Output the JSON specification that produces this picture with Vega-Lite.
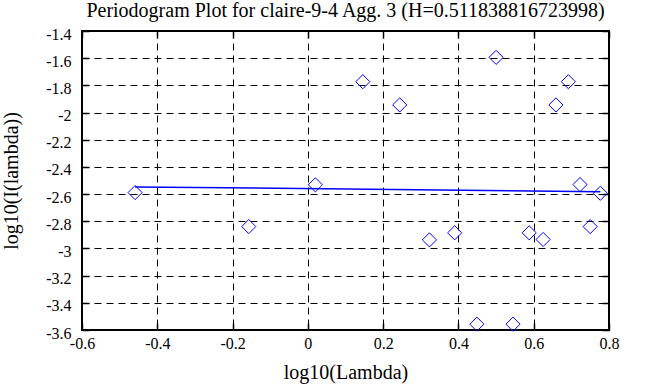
{
  "$schema": "https://vega.github.io/schema/vega-lite/v6.json",
  "width": 527,
  "height": 299,
  "autosize": "none",
  "padding": {"left": 82, "top": 31, "right": 44, "bottom": 57},
  "background": "white",
  "title": {
    "text": "Periodogram Plot for claire-9-4 Agg. 3 (H=0.511838816723998)",
    "font": "Liberation Serif",
    "fontSize": 20,
    "fontWeight": "normal",
    "color": "black",
    "anchor": "middle",
    "offset": 5
  },
  "config": {
    "font": "Liberation Serif",
    "style": {
      "guide-label": {"font": "Liberation Serif", "fontSize": 16, "fill": "black"},
      "guide-title": {"font": "Liberation Serif", "fontSize": 20, "fill": "black", "fontWeight": "normal"}
    },
    "view": {"stroke": "black", "strokeWidth": 2},
    "axis": {
      "labelFont": "Liberation Serif",
      "labelFontSize": 16,
      "labelColor": "black",
      "labelFlush": false,
      "titleFont": "Liberation Serif",
      "titleFontSize": 20,
      "titleFontWeight": "normal",
      "titleColor": "black",
      "domain": false,
      "tickColor": "black",
      "tickWidth": 1.5,
      "tickSize": -7,
      "gridColor": "black",
      "gridOpacity": 1,
      "gridWidth": 1,
      "gridDash": [7, 5]
    },
    "axisX": {"labelFont": "Liberation Serif", "labelFontSize": 16},
    "axisY": {"labelFont": "Liberation Serif", "labelFontSize": 16}
  },
  "datasets": {
    "points": [
      {"lx": -0.459, "ly": -2.589},
      {"lx": -0.157, "ly": -2.839},
      {"lx": 0.020, "ly": -2.532},
      {"lx": 0.146, "ly": -1.773},
      {"lx": 0.244, "ly": -1.944},
      {"lx": 0.323, "ly": -2.937},
      {"lx": 0.390, "ly": -2.885},
      {"lx": 0.449, "ly": -3.557},
      {"lx": 0.500, "ly": -1.594},
      {"lx": 0.545, "ly": -3.557},
      {"lx": 0.588, "ly": -2.885},
      {"lx": 0.625, "ly": -2.934},
      {"lx": 0.659, "ly": -1.944},
      {"lx": 0.692, "ly": -1.773},
      {"lx": 0.723, "ly": -2.530},
      {"lx": 0.750, "ly": -2.839},
      {"lx": 0.777, "ly": -2.594}
    ],
    "fit": [
      {"lx": -0.459, "ly": -2.547},
      {"lx": 0.777, "ly": -2.582}
    ]
  },
  "layer": [
    {
      "data": {"name": "points"},
      "mark": {"type": "point", "shape": "diamond", "size": 200, "filled": false, "color": "#0000ff", "strokeWidth": 1, "opacity": 1},
      "encoding": {
        "x": {
          "field": "lx", "type": "quantitative",
          "scale": {"domain": [-0.6, 0.8], "nice": false, "zero": false},
          "axis": {
            "orient": "bottom",
            "title": "log10(Lambda)",
            "values": [-0.6, -0.4, -0.2, 0, 0.2, 0.4, 0.6, 0.8],
            "labelExpr": "'' + datum.value",
            "labelFont": "Liberation Serif",
            "labelFontSize": 16,
            "labelFlush": false,
            "titleFont": "Liberation Serif",
            "labelPadding": 12,
            "titlePadding": 11,
            "grid": true
          }
        },
        "y": {
          "field": "ly", "type": "quantitative",
          "scale": {"domain": [-3.6, -1.4], "nice": false, "zero": false},
          "axis": {
            "orient": "left",
            "title": "log10(I(lambda))",
            "values": [-3.6, -3.4, -3.2, -3, -2.8, -2.6, -2.4, -2.2, -2, -1.8, -1.6, -1.4],
            "labelExpr": "'' + datum.value",
            "labelFont": "Liberation Serif",
            "labelFontSize": 16,
            "labelFlush": false,
            "titleFont": "Liberation Serif",
            "labelPadding": 18,
            "labelOffset": 3,
            "titlePadding": 24,
            "grid": true
          }
        }
      }
    },
    {
      "data": {"name": "fit"},
      "mark": {"type": "line", "color": "#0000ff", "strokeWidth": 1.5},
      "encoding": {
        "x": {
          "field": "lx", "type": "quantitative",
          "axis": {
            "orient": "top",
            "title": null,
            "labels": false,
            "grid": false,
            "values": [-0.6, -0.4, -0.2, 0, 0.2, 0.4, 0.6, 0.8]
          }
        },
        "y": {
          "field": "ly", "type": "quantitative",
          "axis": {
            "orient": "right",
            "title": null,
            "labels": false,
            "grid": false,
            "values": [-3.6, -3.4, -3.2, -3, -2.8, -2.6, -2.4, -2.2, -2, -1.8, -1.6, -1.4]
          }
        }
      }
    }
  ],
  "resolve": {"axis": {"x": "independent", "y": "independent"}}
}
